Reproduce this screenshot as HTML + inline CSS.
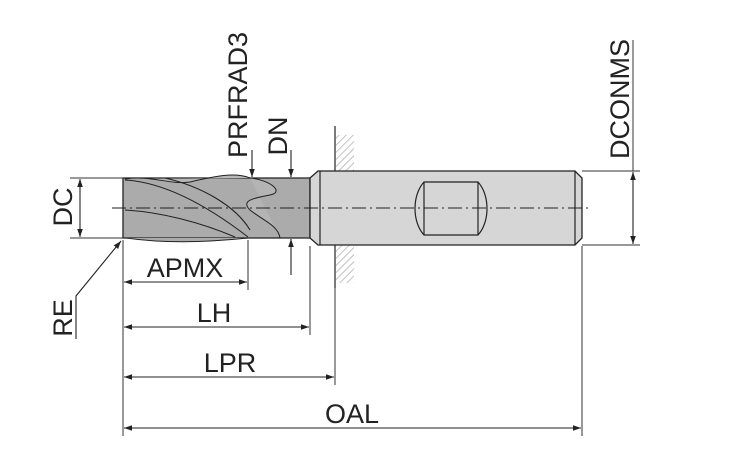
<!DOCTYPE html>
<html><head><meta charset="utf-8"><style>
html,body{margin:0;padding:0;background:#fff;}
svg{display:block;}
text{font-family:"Liberation Sans",sans-serif;fill:#222;}
</style></head><body>
<svg width="754" height="456" viewBox="0 0 754 456" xmlns="http://www.w3.org/2000/svg">
<defs>
<marker id="a" viewBox="0 0 10 10" refX="10" refY="5" markerWidth="10" markerHeight="8" markerUnits="userSpaceOnUse" orient="auto-start-reverse"><path d="M0,1.5 L10,5 L0,8.5 Z" fill="#222"/></marker>
<pattern id="h" width="5" height="5" patternUnits="userSpaceOnUse" patternTransform="rotate(45)"><line x1="0" y1="0" x2="0" y2="5" stroke="#999" stroke-width="1.2"/></pattern>
</defs>
<rect x="336" y="135" width="18" height="36" fill="url(#h)"/>
<rect x="336" y="245" width="18" height="38" fill="url(#h)"/>
<line x1="335" y1="126" x2="335" y2="288" stroke="#333" stroke-width="1.3"/>
<path d="M123,178 L310,178 L310,238 L123,238 Z" fill="#ababab" stroke="#222" stroke-width="1.3"/>
<path d="M125,179 C150,175 170,185 190,182 C215,176 235,172 250,178" fill="#b8b8b8" stroke="#222" stroke-width="1"/>
<path d="M125,180 C160,182 200,200 248,237" fill="none" stroke="#222" stroke-width="1.1"/>
<path d="M165,178 C200,186 235,205 250,230" fill="none" stroke="#222" stroke-width="1.1"/>
<path d="M125,210 C160,212 200,222 235,237" fill="none" stroke="#222" stroke-width="1.1"/>
<path d="M250,178 C270,180 285,192 270,195 C255,198 240,200 250,210 C262,220 278,225 280,238" fill="#b4b4b4" stroke="#222" stroke-width="1"/>
<path d="M126,238 C160,243 200,243 248,238" fill="#ababab" stroke="#222" stroke-width="1"/>
<path d="M310,178 L318,171 L575,171 L582,178 L582,238 L575,245 L318,245 L310,238 Z" fill="#d6d6d6" stroke="#222" stroke-width="1.3"/>
<line x1="320" y1="171" x2="320" y2="245" stroke="#222" stroke-width="1.2"/>
<line x1="575" y1="171" x2="575" y2="245" stroke="#222" stroke-width="1.2"/>
<path d="M424,182 L478,182 C490,195 490,222 478,235 L424,235 C412,222 412,195 424,182 Z" fill="#d6d6d6" stroke="#222" stroke-width="1.2"/>
<line x1="424" y1="182" x2="424" y2="235" stroke="#222" stroke-width="1.2"/>
<line x1="478" y1="182" x2="478" y2="235" stroke="#222" stroke-width="1.2"/>
<line x1="112" y1="208" x2="590" y2="208" stroke="#222" stroke-width="1" stroke-dasharray="14,4,2,4"/>
<g stroke="#333" stroke-width="1">
<line x1="70" y1="178" x2="123" y2="178"/>
<line x1="70" y1="238" x2="123" y2="238"/>
<line x1="123" y1="240" x2="123" y2="436"/>
<line x1="248" y1="240" x2="248" y2="290"/>
<line x1="310" y1="246" x2="310" y2="335"/>
<line x1="335" y1="288" x2="335" y2="385"/>
<line x1="582" y1="246" x2="582" y2="436"/>
<line x1="582" y1="171" x2="640" y2="171"/>
<line x1="582" y1="245" x2="640" y2="245"/>
<line x1="633" y1="40" x2="633" y2="171"/>
</g>
<g stroke="#222" stroke-width="1.1" fill="none">
<line x1="80" y1="179" x2="80" y2="237" marker-start="url(#a)" marker-end="url(#a)"/>
<line x1="633" y1="172" x2="633" y2="244" marker-start="url(#a)" marker-end="url(#a)"/>
<line x1="124" y1="282" x2="247" y2="282" marker-start="url(#a)" marker-end="url(#a)"/>
<line x1="124" y1="327" x2="309" y2="327" marker-start="url(#a)" marker-end="url(#a)"/>
<line x1="124" y1="377" x2="334" y2="377" marker-start="url(#a)" marker-end="url(#a)"/>
<line x1="124" y1="428" x2="581" y2="428" marker-start="url(#a)" marker-end="url(#a)"/>
<line x1="252" y1="150" x2="252" y2="177" marker-end="url(#a)"/>
<line x1="291" y1="150" x2="291" y2="177" marker-end="url(#a)"/>
<line x1="291" y1="275" x2="291" y2="239" marker-end="url(#a)"/>
<polyline points="76,339 76,296 121,241" marker-end="url(#a)"/>
</g>
<g font-size="27">
<text x="185" y="277" text-anchor="middle">APMX</text>
<text x="214" y="322" text-anchor="middle">LH</text>
<text x="230" y="372" text-anchor="middle">LPR</text>
<text x="352" y="423" text-anchor="middle">OAL</text>
<text transform="translate(72,207) rotate(-90)" text-anchor="middle">DC</text>
<text transform="translate(72,318) rotate(-90)" text-anchor="middle">RE</text>
<text transform="translate(247,95) rotate(-90)" text-anchor="middle">PRFRAD3</text>
<text transform="translate(287,136) rotate(-90)" text-anchor="middle">DN</text>
<text transform="translate(629,99) rotate(-90)" text-anchor="middle">DCONMS</text>
</g>
</svg>
</body></html>
